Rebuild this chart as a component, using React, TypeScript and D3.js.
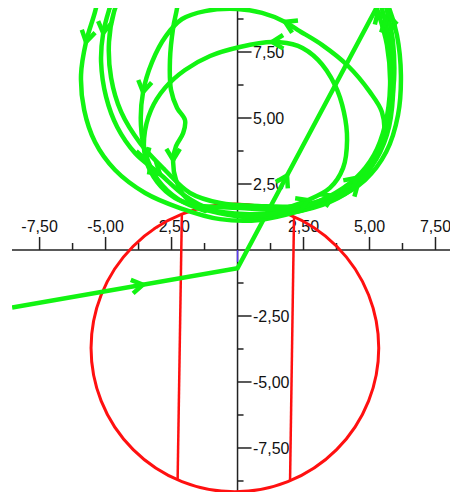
import React from "react";
import * as d3 from "d3";

const W = 450;
const H = 492;

// axis ticks (data units)
const majorTicks = [-7.5, -5, -2.5, 2.5, 5, 7.5];
const minorTicksX = [-6.25, -3.75, -1.25, 1.25, 3.75, 6.25];
const minorTicksY = [-8.75, -6.25, -3.75, -1.25, 1.25, 3.75, 6.25, 8.75];

// red circle and its two chords (x at top, x at bottom)
const circleCenter: [number, number] = [-0.1, -3.71];
const circleRadius = 5.45;
const chords: [number, number][] = [
  [-2.11, -2.27],
  [2.14, 1.99],
];

// green: straight entry path, arrows as [segment, t]
const entryPath: [number, number][] = [
  [-8.54, -2.18],
  [0.0, -0.69],
  [5.6, 9.8],
];
const entryArrows: [number, number][] = [
  [0, 0.58],
  [1, 0.335],
];

// green loops (counter-clockwise orbits), arrows at point indices
const loop1: [number, number][] = [
  [-5.21, 9.85], [-5.4, 9.02], [-5.74, 7.88], [-5.93, 6.63], [-5.81, 5.3],
  [-5.4, 4.09], [-4.64, 3.03], [-3.5, 2.16], [-2.18, 1.59], [-0.66, 1.17],
  [0.85, 1.14], [2.37, 1.48], [3.69, 1.93], [4.83, 2.65], [5.63, 3.71],
  [6.08, 5.11], [6.19, 6.63], [6.04, 8.14], [5.74, 9.17], [5.32, 10.04],
];
const loop2: [number, number][] = [
  [-4.53, 10.04], [-4.87, 9.09], [-5.09, 8.22], [-5.17, 7.12], [-4.98, 5.8],
  [-4.56, 4.66], [-3.88, 3.67], [-2.94, 2.88], [-1.99, 2.05], [-1.04, 1.55],
  [0.28, 1.36], [1.8, 1.48], [3.05, 1.78], [4.22, 2.35], [5.09, 3.18],
  [5.66, 4.36], [5.89, 5.87], [5.81, 7.5], [5.59, 8.71], [5.17, 10.04],
];
const loop3: [number, number][] = [
  [-4.26, 10.04], [-4.68, 9.02], [-4.87, 7.88], [-4.79, 6.52], [-4.41, 5.23],
  [-3.69, 4.05], [-2.75, 3.03], [-1.8, 2.16], [-0.66, 1.78], [0.78, 1.67],
  [2.29, 1.67], [3.62, 2.05], [4.64, 2.73], [5.36, 3.71], [5.74, 5.0],
  [5.93, 6.44], [5.89, 7.88], [5.7, 8.9], [5.4, 10.04],
];
const loop4: [number, number][] = [
  [-1.23, 1.52], [0.28, 1.25], [1.99, 1.4], [3.5, 1.82], [4.56, 2.5],
  [5.21, 3.41], [5.55, 4.36], [5.47, 5.23], [5.02, 5.98], [4.19, 6.97],
  [3.2, 7.77], [2.29, 8.33], [1.8, 8.64], [0.93, 8.98], [-0.02, 9.13],
  [-1.23, 9.05], [-2.1, 8.75], [-2.71, 8.11], [-3.24, 7.12], [-3.58, 5.98],
  [-3.66, 4.73], [-3.47, 3.6], [-3.01, 2.65], [-2.25, 1.93], [-1.23, 1.48],
];
const loop5: [number, number][] = [
  [-1.42, 1.67], [0.09, 1.59], [1.61, 1.55], [2.67, 1.89], [3.5, 2.35],
  [4.0, 3.11], [4.15, 4.17], [4.03, 5.23], [3.69, 6.25], [3.05, 7.2],
  [2.29, 7.73], [1.31, 7.88], [0.09, 7.69], [-1.04, 7.35], [-1.99, 6.82],
  [-2.75, 6.14], [-3.28, 5.3], [-3.54, 4.24], [-3.47, 3.41], [-3.05, 2.58],
  [-2.37, 1.97], [-1.42, 1.63],
];
const loop6: [number, number][] = [
  [-2.18, 10.04], [-2.29, 9.17], [-2.44, 8.41], [-2.56, 7.2], [-2.52, 6.06],
  [-2.29, 5.38], [-1.99, 4.92], [-2.06, 4.43], [-2.33, 3.94], [-2.44, 3.41],
  [-2.33, 2.65], [-1.95, 1.97], [-1.04, 1.52], [0.47, 1.29], [2.06, 1.52],
  [3.43, 2.01], [4.49, 2.73], [5.17, 3.6], [5.59, 4.73], [5.78, 6.25],
  [5.66, 7.77], [5.32, 9.02], [4.94, 10.04],
];
const loops = [loop1, loop2, loop3, loop4, loop5, loop6];
const loopArrows: number[][] = [
  [2],
  [2, 7, 18],
  [11, 17],
  [4, 12, 19],
  [3, 11, 18],
  [9, 16, 21],
];

const fmt = (v: number) => v.toFixed(2).replace(".", ",");

const x = d3.scaleLinear().domain([-9, 8.05]).range([0, W]);
const y = d3.scaleLinear().domain([9.47, -9.167]).range([0, H]);

const GREEN = "#12f412";
const RED = "#ff1010";
const AXIS = "#222";
const FONT = "'Liberation Sans', Arial, sans-serif";

function arrowHead(px: number, py: number, ang: number, key: string) {
  const L = 13;
  const S = 0.55;
  const a1 = ang + Math.PI - S;
  const a2 = ang + Math.PI + S;
  const d = `M${px + L * Math.cos(a1)},${py + L * Math.sin(a1)}L${px},${py}L${
    px + L * Math.cos(a2)
  },${py + L * Math.sin(a2)}`;
  return (
    <path key={key} d={d} fill="none" stroke={GREEN} strokeWidth={4.5} strokeLinejoin="miter" />
  );
}

export default function App() {
  const x0 = x(0);
  const y0 = y(0);
  const left = 12;
  const top = 8;

  const curve = d3
    .line<[number, number]>()
    .x((d) => x(d[0]))
    .y((d) => y(d[1]))
    .curve(d3.curveCatmullRom.alpha(0.5));
  const straight = d3
    .line<[number, number]>()
    .x((d) => x(d[0]))
    .y((d) => y(d[1]));

  const [ccx, ccy] = circleCenter;
  const chordEnds = chords.map(([xt, xb]) => {
    const ht = Math.sqrt(circleRadius ** 2 - (xt - ccx) ** 2);
    const hb = Math.sqrt(circleRadius ** 2 - (xb - ccx) ** 2);
    return { x1: x(xt), y1: y(ccy + ht), x2: x(xb), y2: y(ccy - hb) };
  });

  const arrows: React.ReactNode[] = [];
  entryArrows.forEach(([s, t], i) => {
    const a = entryPath[s];
    const b = entryPath[s + 1];
    const px = x(a[0] + (b[0] - a[0]) * t);
    const py = y(a[1] + (b[1] - a[1]) * t);
    const ang = Math.atan2(y(b[1]) - y(a[1]), x(b[0]) - x(a[0]));
    arrows.push(arrowHead(px, py, ang, `e${i}`));
  });
  loops.forEach((lp, li) => {
    loopArrows[li].forEach((idx) => {
      const p = lp[idx];
      const prev = lp[Math.max(0, idx - 1)];
      const next = lp[Math.min(lp.length - 1, idx + 1)];
      const ang = Math.atan2(y(next[1]) - y(prev[1]), x(next[0]) - x(prev[0]));
      arrows.push(arrowHead(x(p[0]), y(p[1]), ang, `l${li}-${idx}`));
    });
  });

  return (
    <div style={{ position: "absolute", left: 0, top: 0, width: W, height: H, background: "#fff" }}>
      <svg width={W} height={H} style={{ display: "block" }}>
        <defs>
          <clipPath id="plot">
            <rect x={left} y={top} width={W - left} height={H - top} />
          </clipPath>
        </defs>

        {/* axes */}
        <g stroke={AXIS} strokeWidth={1.5}>
          <line x1={left} x2={W} y1={y0} y2={y0} />
          <line x1={x0} x2={x0} y1={top} y2={H} />
          {majorTicks.map((t) => (
            <line key={`mx${t}`} x1={x(t)} x2={x(t)} y1={y0} y2={y0 - 13} />
          ))}
          {minorTicksX.map((t) => (
            <line key={`nx${t}`} x1={x(t)} x2={x(t)} y1={y0} y2={y0 - 7} />
          ))}
          {majorTicks.map((t) => (
            <line key={`my${t}`} x1={x0} x2={x0 + 14} y1={y(t)} y2={y(t)} />
          ))}
          {minorTicksY.map((t) => (
            <line key={`ny${t}`} x1={x0} x2={x0 + 6} y1={y(t)} y2={y(t)} />
          ))}
        </g>
        <g fontFamily={FONT} fontSize={16} fill="#111">
          {majorTicks.map((t) => (
            <text key={`lx${t}`} x={x(t)} y={y0 - 18} textAnchor="middle">
              {fmt(t)}
            </text>
          ))}
          {majorTicks.map((t) => (
            <text key={`ly${t}`} x={x0 + 15.5} y={y(t) + 6} textAnchor="start">
              {fmt(t)}
            </text>
          ))}
        </g>

        <g clipPath="url(#plot)">
          {/* red circle and chords */}
          <circle
            cx={x(ccx)}
            cy={y(ccy)}
            r={x(ccx + circleRadius) - x(ccx)}
            fill="none"
            stroke={RED}
            strokeWidth={3}
          />
          {chordEnds.map((c, i) => (
            <line key={`c${i}`} {...c} stroke={RED} strokeWidth={2.5} />
          ))}
          <line x1={x0} x2={x0} y1={y0} y2={y(-0.45)} stroke="#5a3cf0" strokeWidth={1.5} />

          {/* green trajectory */}
          <path d={straight(entryPath) || ""} fill="none" stroke={GREEN} strokeWidth={4.5} />
          {loops.map((lp, i) => (
            <path
              key={`lp${i}`}
              d={curve(lp) || ""}
              fill="none"
              stroke={GREEN}
              strokeWidth={4.5}
              strokeLinecap="round"
            />
          ))}
          {arrows}
        </g>
      </svg>
    </div>
  );
}
